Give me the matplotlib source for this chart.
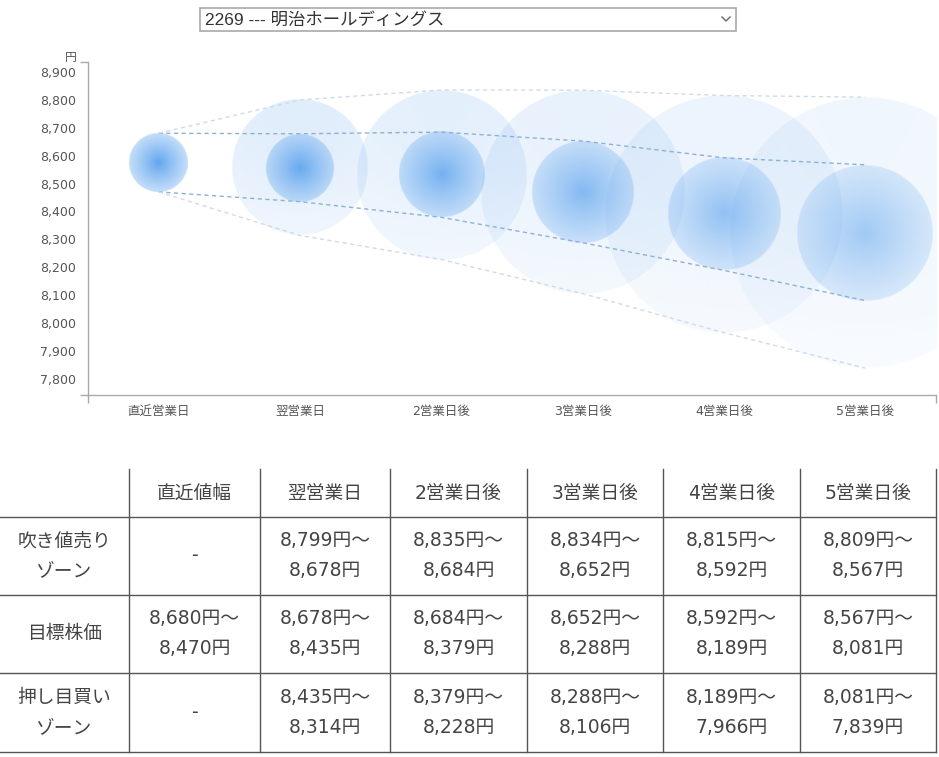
import numpy as np
import matplotlib
matplotlib.use('Agg')
from matplotlib import pyplot as plt
from matplotlib.lines import Line2D
from matplotlib.patches import Rectangle

plt.rcParams['font.family'] = ['DejaVu Sans', 'Noto Sans CJK JP']

# データ
title = '2269 --- 明治ホールディングス'
days = ['直近営業日', '翌営業日', '2営業日後', '3営業日後', '4営業日後', '5営業日後']
col_heads = ['直近値幅', '翌営業日', '2営業日後', '3営業日後', '4営業日後', '5営業日後']
row_heads = ['吹き値売り\nゾーン', '目標株価', '押し目買い\nゾーン']

sell_hi = [None, 8799, 8835, 8834, 8815, 8809]    # 吹き値売りゾーン 上
target_hi = [8680, 8678, 8684, 8652, 8592, 8567]  # 目標株価 上
target_lo = [8470, 8435, 8379, 8288, 8189, 8081]  # 目標株価 下
buy_lo = [None, 8314, 8228, 8106, 7966, 7839]     # 押し目買いゾーン 下
yticks = [7800, 7900, 8000, 8100, 8200, 8300, 8400, 8500, 8600, 8700, 8800, 8900]

W, H = 939, 757
fig = plt.figure(figsize=(W / 100, H / 100), dpi=100)

def fx(px):
    return px / W

def fy(py):
    return 1 - py / H

# グラフ領域
ax_l, ax_r, ax_t, ax_b = 88, 936, 62, 395
ax = fig.add_axes([fx(ax_l), fy(ax_b), fx(ax_r - ax_l), fy(ax_t) - fy(ax_b)])
ylo, yhi = 7743, 8935
xlo, xhi = -0.5, 5.5
ax.set_xlim(xlo, xhi)
ax.set_ylim(ylo, yhi)

# 1円あたり・1日あたりのピクセル
px_per_y = (ax_b - ax_t) / (yhi - ylo)
px_per_x = (ax_r - ax_l) / (xhi - xlo)

N = 400
g = np.linspace(-1, 1, N)
GX, GY = np.meshgrid(g, g)
R = np.sqrt(GX ** 2 + GY ** 2)

def bubble(cx, cy, r_yen, kind, strength):
    r_px = r_yen * px_per_y
    rx = r_px / px_per_x
    img = np.zeros((N, N, 4))
    if kind == 'inner':
        img[..., 0] = 60 / 255
        img[..., 1] = 145 / 255
        img[..., 2] = 235 / 255
        a = strength * (0.82 - 0.52 * R ** 0.9)
    else:
        img[..., 0] = 110 / 255
        img[..., 1] = 170 / 255
        img[..., 2] = 240 / 255
        # 上が濃く下が薄い
        a = strength * (1.0 - 0.5 * (GY + 1) / 2) * (1 - 0.2 * R)
    a = np.where(R <= 1, a, 0)
    img[..., 3] = np.clip(a, 0, 1)
    ax.imshow(img, extent=[cx - rx, cx + rx, cy - r_yen, cy + r_yen],
              origin='upper', aspect='auto', interpolation='bilinear', zorder=2)

# 外側のバブル（吹き値〜押し目）
for i in range(1, 6):
    c = (sell_hi[i] + buy_lo[i]) / 2
    r = (sell_hi[i] - buy_lo[i]) / 2
    bubble(i, c, r, 'outer', 0.30 - 0.035 * i)

# 内側のバブル（目標株価）
for i in range(6):
    c = (target_hi[i] + target_lo[i]) / 2
    r = (target_hi[i] - target_lo[i]) / 2
    bubble(i, c, r, 'inner', 1.0 - 0.09 * i)

ax.set_xlim(xlo, xhi)
ax.set_ylim(ylo, yhi)

x = np.arange(6)
outer_top = [target_hi[0]] + sell_hi[1:]
outer_bot = [target_lo[0]] + buy_lo[1:]
ax.plot(x, target_hi, color='#8fb0d4', lw=1, dashes=(3, 2.5), zorder=4)
ax.plot(x, target_lo, color='#8fb0d4', lw=1, dashes=(3, 2.5), zorder=4)
ax.plot(x, outer_top, color='#cfdbe8', lw=1, dashes=(3, 2.5), zorder=4)
ax.plot(x, outer_bot, color='#cfdbe8', lw=1, dashes=(3, 2.5), zorder=4)

# 軸
for s in ['top', 'right']:
    ax.spines[s].set_visible(False)
for s in ['left', 'bottom']:
    ax.spines[s].set_color('#aaaaaa')
    ax.spines[s].set_linewidth(1)
ax.set_yticks(yticks)
ax.set_yticklabels([f'{v:,}' for v in yticks])
ax.set_xticks(x)
ax.set_xticklabels(days)
ax.set_yticks([ylo, yhi], minor=True)
ax.set_xticks([xlo, xhi], minor=True)
ax.tick_params(axis='y', which='major', length=0, pad=8.5, labelsize=9, labelcolor='#555555')
ax.tick_params(axis='x', which='major', length=0, pad=7, labelsize=9, labelcolor='#555555')
ax.tick_params(which='minor', length=6, color='#aaaaaa', width=1)
ax.tick_params(axis='y', which='minor', labelleft=False)
ax.tick_params(axis='x', which='minor', labelbottom=False)
fig.text(fx(77), fy(57), '円', ha='right', va='center', fontsize=8.5, color='#555555')

# プルダウン
fig.patches.append(Rectangle((fx(200), fy(31)), fx(536), fy(8) - fy(31), transform=fig.transFigure,
                             facecolor='white', edgecolor='#a9a9a9', lw=1.2))
fig.text(fx(205), fy(20), title, ha='left', va='center', fontsize=12.5,
         family=['Liberation Sans', 'Noto Sans CJK JP'], color='#333333')
fig.lines.append(Line2D([fx(722), fx(726), fx(730)], [fy(17), fy(21), fy(17)],
                        transform=fig.transFigure, color='#666666', lw=1))

# 表
col_edges = [0, 129, 260, 390, 527, 663, 800, 936]
row_edges = [469, 517, 595, 673, 752]
line_c = '#555555'
for xe in col_edges[1:]:
    fig.lines.append(Line2D([fx(xe), fx(xe)], [fy(row_edges[0]), fy(row_edges[-1])],
                            transform=fig.transFigure, color=line_c, lw=1))
for ye in row_edges[1:]:
    fig.lines.append(Line2D([fx(0), fx(936)], [fy(ye), fy(ye)],
                            transform=fig.transFigure, color=line_c, lw=1))

def cx_of(j):
    return (col_edges[j] + col_edges[j + 1]) / 2

def cy_of(k):
    return (row_edges[k] + row_edges[k + 1]) / 2

def cell(j, k, txt):
    lines = txt.split('\n')
    y0 = cy_of(k) - (len(lines) - 1) * 15
    for n, t in enumerate(lines):
        fig.text(fx(cx_of(j)), fy(y0 + n * 30), t, ha='center', va='center',
                 fontsize=13.5, color='#444444')

for j, h in enumerate(col_heads):
    cell(j + 1, 0, h)
for k, h in enumerate(row_heads):
    cell(0, k + 1, h)

for i in range(6):
    if sell_hi[i] is None:
        cell(i + 1, 1, '-')
    else:
        cell(i + 1, 1, f'{sell_hi[i]:,}円～\n{target_hi[i]:,}円')
    cell(i + 1, 2, f'{target_hi[i]:,}円～\n{target_lo[i]:,}円')
    if buy_lo[i] is None:
        cell(i + 1, 3, '-')
    else:
        cell(i + 1, 3, f'{target_lo[i]:,}円～\n{buy_lo[i]:,}円')

fig.savefig('out.png', dpi=100, facecolor='white')
